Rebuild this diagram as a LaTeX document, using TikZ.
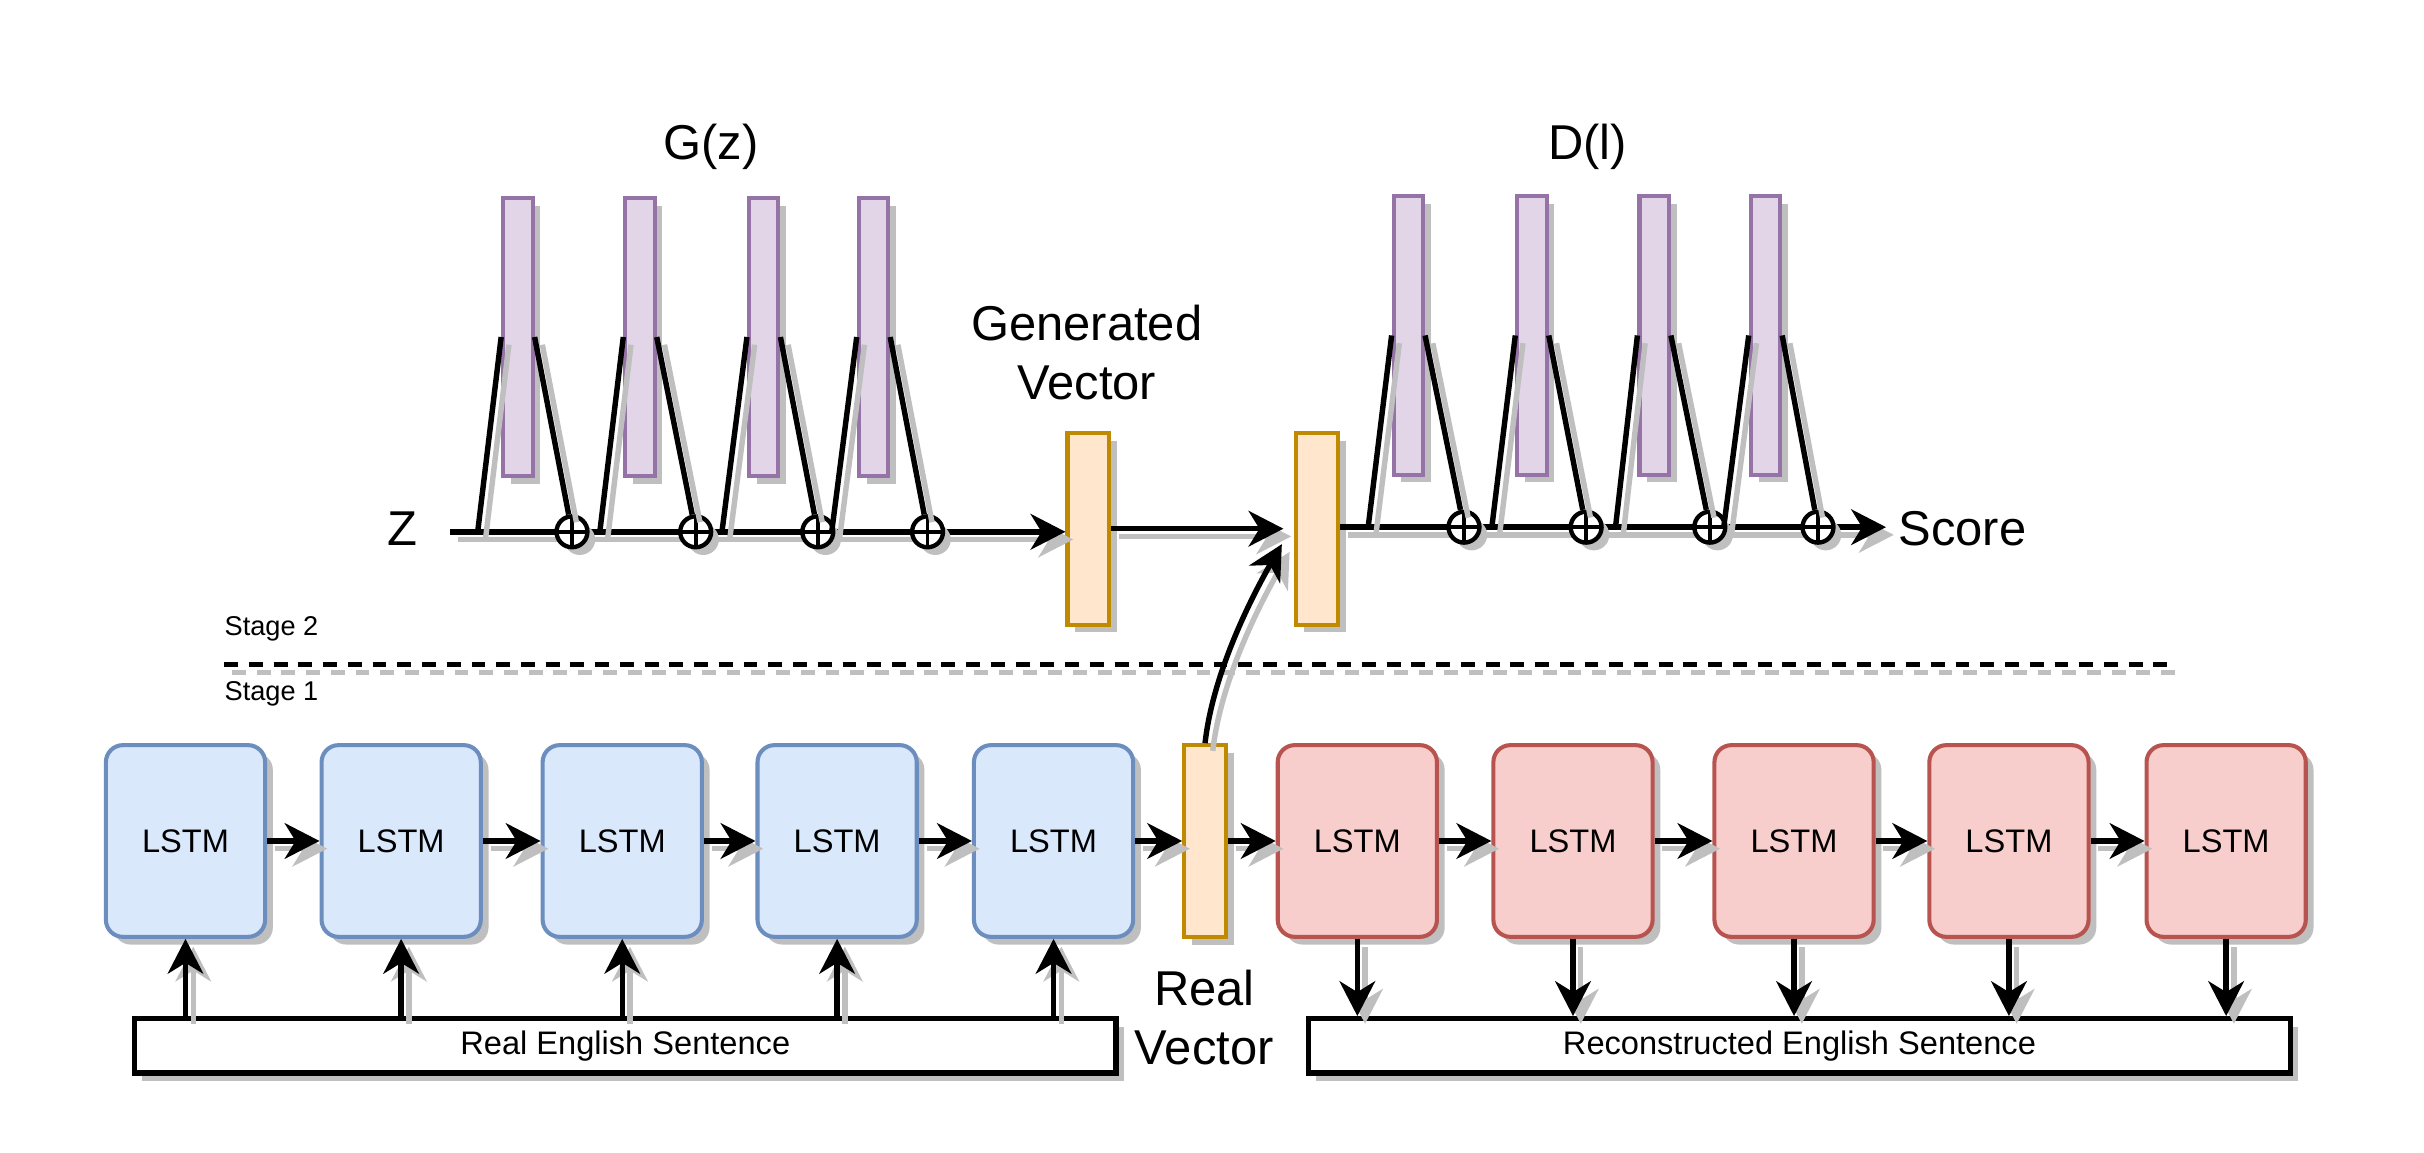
\documentclass[tikz,border=0pt]{standalone}
\usepackage{fontspec}
\setmainfont{Liberation Sans}
\usetikzlibrary{arrows.meta,shadows,calc}

\definecolor{encfill}{HTML}{DAE8FC}
\definecolor{encdraw}{HTML}{6C8EBF}
\definecolor{decfill}{HTML}{F8CECC}
\definecolor{decdraw}{HTML}{B85450}
\definecolor{vecfill}{HTML}{FFE6CC}
\definecolor{vecdraw}{HTML}{BF8A00}
\definecolor{layfill}{HTML}{E1D5E7}
\definecolor{laydraw}{HTML}{9673A6}

\begin{document}
\begin{tikzpicture}[>={Stealth[length=0.45cm,width=0.46cm,inset=0.14cm]},
  shdw/.style={drop shadow={shadow xshift=0.1cm,shadow yshift=-0.1cm,fill=black!25,opacity=1}},
  lshdw/.style={preaction={draw=black!25, line width=2pt, #1, transform canvas={shift={(0.1cm,-0.1cm)}}}},
  conn/.style={lshdw=-, line width=2pt},
  arr/.style={lshdw=->, line width=2pt, ->},
  lstm/.style={shdw, rounded corners=0.22cm, line width=1.5pt, minimum width=2.06cm, minimum height=2.48cm, font=\fontsize{12}{14}\selectfont},
  enc/.style={lstm, draw=encdraw, fill=encfill},
  dec/.style={lstm, draw=decdraw, fill=decfill},
  vec/.style={shdw, draw=vecdraw, fill=vecfill, line width=1.5pt, minimum width=0.54cm, minimum height=2.48cm, inner sep=0pt},
  layer/.style={shdw, draw=laydraw, fill=layfill, line width=1.5pt, minimum width=0.38cm, minimum height=3.6cm, inner sep=0pt},
  sum/.style={shdw, circle, draw, fill=white, line width=1.6pt, minimum size=0.4cm, inner sep=0pt,
    path picture={\draw [line width=1.4pt] (path picture bounding box.north) -- (path picture bounding box.south)
      (path picture bounding box.west) -- (path picture bounding box.east);}},
  sent/.style={shdw, draw, fill=white, line width=2pt, minimum width=12.7cm, minimum height=0.7cm, font=\fontsize{12}{14}\selectfont},
  big/.style={font=\fontsize{18}{21.6}\selectfont},
  small/.style={font=\fontsize{10}{12}\selectfont, anchor=west, inner sep=0pt}]
\useasboundingbox (0,0) rectangle (31.36,14.904);

\begin {scope}
  \node [big] (glab) at (9.2,13.004) {G(z)};
  \node [big] (dlab) at (20.54,13.004) {D(l)};
  \node [big] (zlab) at (5.2,8.064) {Z};
  \node [vec] (gv) at (14.08,8.064) {};
  \node [vec] (dv) at (17.04,8.064) {};
  \node [big, align=center] (gvlab) at (14.06,10.344) {Generated\\Vector};
  \coordinate (z0) at (5.82,8.024);
  \coordinate (sc) at (24.4,8.084);
  \node [big, anchor=west] (score) at (24.44,8.064) {Score};
  \draw [arr] (z0) -- (gv.west |- z0);
  \draw [arr] (dv.east |- sc) -- (sc);
  \draw [arr] (gv.east) -- ([xshift=-0.14cm]dv.west);
  \foreach \x/\s/\c [count=\i] in {6.7/6.18/7.4, 8.28/7.76/9.0, 9.88/9.34/10.58, 11.3/10.76/12.0}{
    \node [layer] (g\i) at (\x,10.544) {};
    \node [sum] (gs\i) at (\c,8.024) {};
    \coordinate (gi\i) at (\s,8.024);
    \draw [conn] (gi\i) -- (g\i.west);
    \draw [conn] (g\i.east) -- (gs\i);
  }
  \foreach \x/\s/\c [count=\i] in {18.22/17.7/18.94, 19.82/19.3/20.52, 21.4/20.9/22.12, 22.84/22.3/23.52}{
    \node [layer] (d\i) at (\x,10.564) {};
    \node [sum] (ds\i) at (\c,8.084) {};
    \coordinate (di\i) at (\s,8.084);
    \draw [conn] (di\i) -- (d\i.west);
    \draw [conn] (d\i.east) -- (ds\i);
  }
\end {scope}

\draw [lshdw={line width=1.7pt, dash pattern=on 0.18cm off 0.14cm}, line width=1.7pt, dash pattern=on 0.18cm off 0.14cm] (2.9,6.304) -- (28.1,6.304);
\node [small] (st2) at (2.9,6.764) {Stage 2};
\node [small] (st1) at (2.9,5.924) {Stage 1};

\begin {scope}
  \node [vec] (rv) at (15.59,4.024) {};
  \node [big, align=center] (rvlab) at (15.58,1.744) {Real\\Vector};
  \node [sent] (res) at (8.09,1.374) {Real English Sentence};
  \node [sent] (recs) at (23.28,1.374) {Reconstructed English Sentence};
  \foreach \x [count=\i] in {2.4,5.19,8.05,10.83,13.63}{
    \node [enc] (b\i) at (\x,4.024) {LSTM};
    \draw [arr] (res.north -| b\i) -- (b\i.south);
  }
  \foreach \x [count=\i] in {17.56,20.35,23.21,25.99,28.8}{
    \node [dec] (r\i) at (\x,4.024) {LSTM};
    \draw [arr] (r\i.south) -- (recs.north -| r\i);
  }
  \foreach \i/\j in {1/2,2/3,3/4,4/5}{
    \draw [arr] (b\i.east) -- (b\j.west);
    \draw [arr] (r\i.east) -- (r\j.west);
  }
  \draw [arr] (b5.east) -- (rv.west);
  \draw [arr] (rv.east) -- (r1.west);
  \draw [arr] (rv.north) .. controls ($(rv.north)+(0.1,0.9)$) and ($(dv.west)+(-0.56,-0.9)$) .. ([xshift=-0.16cm,yshift=-0.2cm]dv.west);
\end {scope}
\end{tikzpicture}
\end{document}
